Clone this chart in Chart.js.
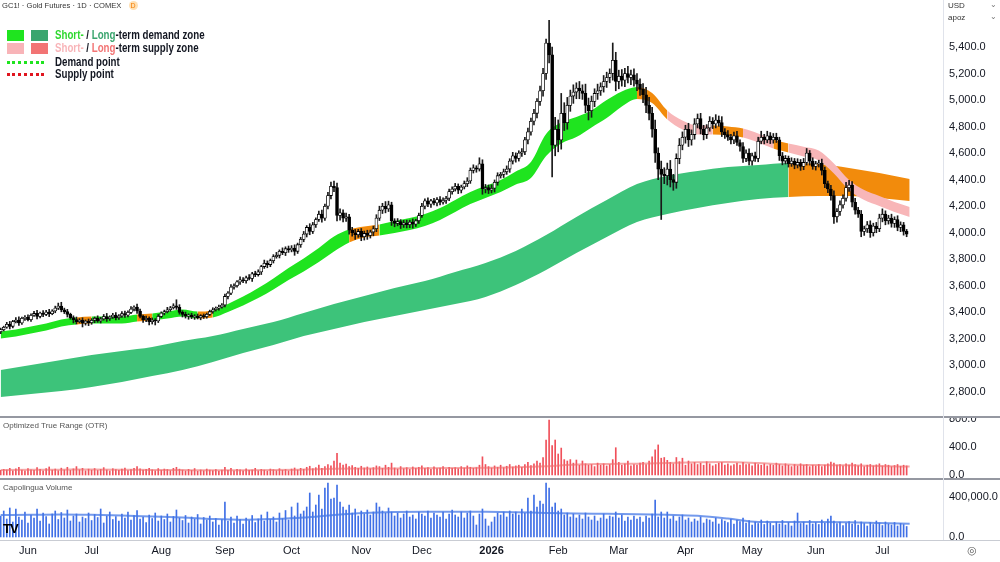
<!DOCTYPE html>
<html>
<head>
<meta charset="utf-8">
<script src="https://cdn.jsdelivr.net/npm/chart.js@4.4.1/dist/chart.umd.min.js"></script>
<style>
  body { margin: 0; width: 1000px; height: 562px; overflow: hidden; background: #fff; position: relative;
         font-family: "Liberation Sans", Arial, sans-serif; }
  canvas { position: absolute; left: 0; }
  .t { position: absolute; white-space: nowrap; color: #131722; }
  .sq { position: absolute; width: 17px; height: 11px; }
  .dot { position: absolute; width: 37px; height: 0; border-top: 3px dotted; }
  .line { position: absolute; background: #c9ccd3; }
  .leg { font-size: 12px; font-weight: bold; transform: scaleX(0.81); transform-origin: 0 0; }
</style>
</head>
<body>
<canvas id="price" width="1000" height="416" style="top:0"></canvas>
<canvas id="otr" width="1000" height="61" style="top:417px"></canvas>
<canvas id="vol" width="1000" height="83" style="top:479px"></canvas>

<div class="line" style="left:0;top:416px;width:1000px;height:2px;background:#9598a1"></div>
<div class="line" style="left:0;top:478px;width:1000px;height:2px;background:#9598a1"></div>
<div class="line" style="left:0;top:540px;width:1000px;height:1px"></div>
<div class="line" style="left:943px;top:0;width:1px;height:540px;background:#e0e3eb"></div>

<div class="t" style="left:2px;top:1px;font-size:7.6px;color:#333">GC1! · Gold Futures · 1D · COMEX
  <span style="display:inline-block;width:9px;height:9px;border-radius:50%;background:#ffe0b2;color:#f57c00;font-size:7px;text-align:center;line-height:9px;margin-left:5px">D</span></div>

<div class="sq" style="left:7px;top:30px;background:#1fe41f"></div>
<div class="sq" style="left:31px;top:30px;background:#3aa56e"></div>
<div class="t leg" style="left:55px;top:28px"><span style="color:#2ed82e">Short-</span> / <span style="color:#3aa56e">Long</span>-term demand zone</div>
<div class="sq" style="left:7px;top:43px;background:#f8b4b8"></div>
<div class="sq" style="left:31px;top:43px;background:#f27474"></div>
<div class="t leg" style="left:55px;top:41px"><span style="color:#f8b4b8">Short-</span> / <span style="color:#f27474">Long</span>-term supply zone</div>
<div class="dot" style="left:7px;top:61px;border-color:#1fe41f"></div>
<div class="t leg" style="left:55px;top:55px">Demand point</div>
<div class="dot" style="left:7px;top:73px;border-color:#e0151f"></div>
<div class="t leg" style="left:55px;top:67px">Supply point</div>

<div class="t" style="left:3px;top:421px;font-size:8px;color:#555">Optimized True Range (OTR)</div>
<div class="t" style="left:3px;top:483px;font-size:8px;color:#555">Capolingua Volume</div>
<div class="t" style="left:3px;top:521px;font-size:13px;font-weight:900;letter-spacing:-1px;color:#000">TV</div>

<div class="t" style="left:948px;top:1px;font-size:8px;color:#333">USD</div>
<div class="t" style="left:990px;top:0px;font-size:8px;color:#777">⌄</div>
<div class="t" style="left:948px;top:13px;font-size:8px;color:#333">apoz</div>
<div class="t" style="left:990px;top:12px;font-size:8px;color:#777">⌄</div>
<div class="t" style="left:967px;top:544px;font-size:11px;color:#555">◎</div>

<script>
// month ticks (trading-day index of first session of the month)
const monthIdx = [9, 30, 53, 74, 96, 119, 139, 162, 184, 204, 226, 248, 269, 291];
const monthLabels = ['Jun', 'Jul', 'Aug', 'Sep', 'Oct', 'Nov', 'Dec', '2026', 'Feb', 'Mar', 'Apr', 'May', 'Jun', 'Jul'];
const priceTicks = [2800, 3000, 3200, 3400, 3600, 3800, 4000, 4200, 4400, 4600, 4800, 5000, 5200, 5400];
const otrTicks = [0, 400, 800];
const volTicks = [0, 400000];

// daily candles, open = previous close
const firstOpen = 3255;
const closes = [
  3270,3288,3310,3295,3330,3342,3320,3355,3362,3345,
  3378,3392,3370,3395,3385,3402,3390,3410,3432,3448,
  3420,3405,3385,3360,3345,3330,3342,3318,3335,3322,
  3340,3355,3335,3350,3368,3352,3365,3380,3360,3372,
  3390,3378,3400,3425,3440,3410,3370,3345,3355,3330,
  3342,3335,3370,3395,3405,3420,3435,3450,3438,3400,
  3385,3372,3380,3365,3372,3360,3375,3368,3385,3405,
  3420,3432,3440,3455,3520,3545,3590,3600,3630,3645,
  3638,3660,3655,3690,3685,3705,3745,3770,3760,3790,
  3820,3830,3860,3850,3880,3870,3885,3860,3910,3950,
  3990,4040,4010,4060,4100,4140,4110,4200,4280,4350,
  4340,4130,4150,4110,4120,4020,4000,3985,4010,3970,
  3995,3980,4005,4030,4110,4170,4200,4180,4210,4090,
  4070,4085,4060,4075,4060,4080,4065,4090,4130,4200,
  4240,4215,4240,4225,4250,4230,4245,4260,4310,4330,
  4350,4320,4345,4370,4390,4470,4490,4480,4520,4330,
  4340,4320,4335,4380,4430,4440,4460,4480,4540,4580,
  4560,4600,4610,4700,4760,4840,4900,4990,5070,5200,
  5430,5340,4660,4780,4700,4900,4830,4960,5030,5060,
  5090,5070,5050,4960,4920,4990,5050,5070,5100,5140,
  5170,5200,5300,5140,5180,5150,5200,5170,5190,5150,
  5120,5080,5040,4960,4900,4780,4600,4480,4440,4430,
  4480,4400,4380,4560,4660,4720,4780,4700,4740,4820,
  4860,4780,4740,4790,4840,4820,4850,4830,4760,4740,
  4720,4700,4730,4680,4650,4560,4600,4540,4580,4560,
  4690,4720,4700,4730,4700,4720,4700,4580,4540,4560,
  4520,4540,4510,4530,4500,4530,4600,4540,4500,4520,
  4525,4470,4370,4330,4280,4120,4160,4210,4260,4340,
  4360,4230,4170,4140,4010,4030,4060,4000,4050,4030,
  4110,4140,4090,4110,4070,4100,4040,4060,4010,3990
];
// wick lengths above / below the body
const wickUp = [
  12,8,15,22,10,18,25,9,14,20, 11,16,24,8,19,13,21,10,15,22,
  28,12,18,9,14,20,11,17,8,15, 13,10,19,12,16,24,9,13,18,11,
  15,20,12,18,10,22,14,9,17,12, 16,11,14,9,12,18,10,15,45,20,
  12,17,9,14,11,16,8,13,10,12, 15,9,14,11,18,12,20,15,10,22,
  18,14,25,12,20,16,10,24,18,12, 15,22,11,26,14,20,18,24,12,16,
  20,14,28,18,12,24,30,16,25,32, 40,35,30,22,28,18,20,25,16,22,
  18,24,15,20,26,30,22,35,28,20, 16,22,14,18,20,15,24,12,18,22,
  16,24,12,20,15,22,18,14,20,16, 22,18,14,20,25,18,22,15,45,30,
  24,20,26,18,22,15,20,24,18,26, 22,18,25,20,28,24,30,22,35,40,
  30,170,60,90,70,150,80,60,45,55, 40,50,45,70,55,40,35,50,30,45,
  40,35,130,60,45,50,40,55,35,45, 50,40,45,55,60,45,70,40,60,50,
  45,65,40,35,50,40,30,45,35,40, 35,40,30,25,35,28,40,30,45,25,
  30,22,28,35,20,30,25,32,20,28, 30,45,22,35,25,28,30,20,25,22,
  18,25,20,28,22,30,35,20,25,18, 22,30,25,20,28,35,22,30,25,40,
  35,25,30,22,28,20,25,30,22,28, 30,40,25,22,30,20,28,22,18,15
];
const wickDn = [
  15,10,8,20,12,9,18,11,16,10, 14,9,20,12,17,10,22,8,13,11,
  16,14,20,12,25,18,10,28,14,22, 12,18,10,15,9,20,13,11,17,14,
  10,16,12,9,14,18,12,20,15,25, 18,30,12,10,14,9,12,10,16,14,
  20,15,24,12,18,10,16,14,12,9, 12,10,15,8,14,18,12,16,10,20,
  14,18,10,22,16,12,20,14,24,16, 18,12,20,15,22,18,14,30,16,20,
  18,22,25,16,20,15,30,18,20,25, 30,40,35,28,24,30,25,35,20,30,
  25,30,20,28,22,18,25,30,20,35, 25,18,28,20,24,22,30,18,20,15,
  20,18,24,16,22,20,15,24,18,20, 16,25,20,15,22,18,20,24,15,40,
  30,25,20,28,22,18,24,20,25,22, 28,20,25,22,30,25,28,35,30,40,
  45,60,240,80,90,70,60,50,45,55, 50,60,45,55,70,50,40,45,35,40,
  45,40,50,70,55,45,50,40,55,45, 50,45,60,55,50,60,70,80,340,60,
  70,55,60,45,40,35,45,50,40,35, 30,35,40,30,25,35,30,28,35,30,
  25,30,28,22,35,30,25,28,30,22, 25,20,30,22,28,25,20,35,28,22,
  25,20,28,22,30,25,20,30,22,28, 25,35,30,28,35,50,40,30,25,22,
  28,35,30,25,40,30,28,35,25,30, 22,28,30,25,28,30,25,32,28,20
];

// optimized true range per day
const otr = [
  65,80,72,95,60,88,110,70,58,92, 75,68,105,82,60,90,115,70,85,62,
  98,72,110,66,88,120,75,95,60,84, 70,92,65,80,105,72,58,90,76,68,
  85,100,62,78,95,120,88,70,82,96, 74,60,92,68,85,78,62,95,110,84,
  70,58,80,66,92,55,72,60,85,70, 62,78,55,70,110,68,95,60,82,74,
  58,88,66,72,95,60,80,70,56,85, 75,62,90,68,78,60,85,100,72,95,
  80,110,125,90,105,140,95,120,150,130, 200,310,170,140,155,120,135,110,95,125,
  100,115,90,105,130,120,95,140,110,170, 100,85,120,90,105,80,115,95,110,130,
  95,105,80,115,90,100,120,85,110,95, 105,90,120,100,130,110,95,105,140,260,
  150,120,100,130,110,140,105,125,150,115, 130,140,110,150,180,135,160,200,170,250,
  500,785,420,500,300,385,220,200,220,170, 214,140,200,160,143,150,120,170,140,160,
  130,150,220,390,180,140,160,200,130,150, 140,170,180,150,200,260,360,430,240,250,
  210,180,160,250,190,240,140,200,160,180, 150,170,140,190,160,130,150,170,180,140,
  160,130,150,170,140,180,150,160,130,170, 150,140,160,130,150,140,170,150,130,160,
  140,120,150,130,160,140,150,120,140,130, 150,120,140,160,185,170,140,150,130,160,
  140,170,150,130,160,120,140,150,130,145, 160,130,150,140,120,135,150,125,140,130
];
// volume in thousands of contracts
const volumeK = [
  210,260,180,290,150,280,200,170,250,140, 220,190,280,160,240,205,130,230,260,175,
  245,190,270,160,210,230,150,200,185,240, 165,225,195,280,140,210,250,175,205,160,
  230,190,250,170,215,265,180,200,145,220, 185,240,160,210,175,230,150,205,270,190,
  165,215,140,200,180,225,130,195,170,210, 150,185,120,175,350,160,200,140,210,175,
  130,190,165,215,145,180,220,160,250,175, 200,150,240,185,265,170,300,210,340,230,
  260,300,440,250,320,420,280,490,540,380, 390,520,350,300,270,320,240,280,210,260,
  230,270,220,250,340,300,260,240,290,250, 210,240,190,230,260,200,220,180,250,230,
  210,260,190,240,220,200,250,180,230,270, 220,200,250,190,240,260,210,120,230,280,
  180,110,150,200,240,220,250,200,260,230, 250,220,280,240,390,260,420,300,360,330,
  540,490,300,340,260,280,220,240,200,230, 190,220,180,240,200,170,210,160,190,230,
  180,210,200,250,190,220,160,200,170,210, 180,200,150,210,190,230,370,200,250,190,
  250,180,210,160,200,220,170,190,150,180, 160,200,140,180,170,150,190,130,175,160,
  145,180,130,170,155,190,140,165,120,150, 135,170,125,160,140,115,150,130,165,120,
  145,110,160,240,135,150,120,165,130,145, 125,170,140,180,210,160,135,150,115,140,
  155,130,165,120,150,135,110,145,125,160, 140,115,150,130,120,145,110,135,125,105
];

// moving-average lines, read every 10 sessions
const avgIdx = [0,10,20,30,40,50,60,70,80,90,100,110,120,130,140,150,160,170,180,190,200,210,220,230,240,250,260,270,280,290,300];
const otrAvg = [72,74,76,78,76,72,70,68,68,70,78,88,92,94,96,100,104,110,125,150,158,162,172,182,185,170,150,142,138,128,120];
const volAvgK = [220,222,225,222,215,205,195,180,172,180,195,220,240,250,253,253,252,248,240,235,232,228,222,212,185,150,150,150,148,140,132];

// short-term zone, every 5 sessions; letter = colour of the segment that starts there
const shortIdx = [0,5,10,15,20,25,30,35,40,45,50,55,60,65,70,75,80,85,90,95,100,105,110,115,120,125,130,135,140,145,150,155,160,165,170,175,180,185,190,195,200,205,210,215,220,225,230,235,240,245,250,255,260,265,270,275,280,285,290,295,300];
const shortTop = [3256,3271,3293,3316,3346,3361,3369,3369,3369,3384,3391,3406,3421,3406,3414,3463,3519,3583,3655,3734,3806,3885,3972,4024,4047,4062,4088,4111,4141,4186,4247,4307,4352,4397,4461,4533,4744,4831,4872,4921,5000,5065,5098,5053,4921,4846,4808,4808,4801,4785,4748,4703,4672,4649,4619,4521,4397,4322,4277,4232,4194];
const shortBot = [3203,3218,3241,3263,3293,3308,3316,3316,3316,3331,3339,3354,3369,3354,3361,3403,3452,3508,3572,3644,3708,3779,3858,3926,3964,3979,3998,4021,4051,4096,4156,4216,4262,4307,4363,4412,4578,4673,4721,4793,4864,4951,5008,4977,4853,4778,4740,4740,4733,4717,4680,4635,4605,4574,4544,4446,4322,4247,4202,4156,4119];
const shortZone = 'gggggogggogggoggggggggg' + 'ooggggggggggggggggg' + 'oopppoopp' + 'oppppppppp';

// long-term zone, every 10 sessions
const longIdx = avgIdx;
const longTop = [2966,3003,3041,3079,3109,3139,3184,3222,3275,3327,3395,3463,3523,3584,3636,3704,3772,3863,3983,4119,4247,4367,4428,4465,4495,4511,4526,4518,4488,4450,4405];
const longBot = [2762,2785,2807,2838,2875,2920,2966,3026,3094,3154,3222,3275,3327,3373,3418,3463,3516,3606,3719,3847,3968,4081,4141,4187,4224,4254,4269,4277,4277,4262,4239];
const longZone = 'GGGGGGGGGGGGGGGGGGGGGGGGGGoooo';

const zoneColor = { g: '#1fe41f', o: '#f28b0c', p: '#f8b6b8', G: '#3dc37a' };

Chart.defaults.font.family = '"Liberation Sans", Arial, sans-serif';
Chart.defaults.animation = false;

const opens = closes.map((c, i) => i === 0 ? firstOpen : closes[i - 1]);
const fmt = v => v.toLocaleString('en-US', { minimumFractionDigits: 1, maximumFractionDigits: 1 });

function xAxis(show) {
  return {
    type: 'linear', min: -0.23, max: 311, offset: false, display: show,
    grid: { display: false, drawTicks: false }, border: { display: false },
    afterBuildTicks: s => { s.ticks = monthIdx.map(v => ({ value: v })); },
    afterFit: s => { s.height = show ? 22 : 0; s.paddingLeft = 0; s.paddingRight = 0; },
    ticks: {
      display: show, autoSkip: false, maxRotation: 0, padding: 4, color: '#131722',
      font: ctx => ({ size: 11, weight: ctx.tick && ctx.tick.value === 162 ? 'bold' : 'normal' }),
      callback: v => monthLabels[monthIdx.indexOf(v)]
    }
  };
}
function yAxis(min, max, vals) {
  return {
    position: 'right', min: min, max: max,
    grid: { display: false, drawTicks: false }, border: { display: false },
    afterBuildTicks: s => { s.ticks = vals.map(v => ({ value: v })); },
    afterFit: s => { s.width = 57; s.paddingTop = 0; s.paddingBottom = 0; },
    ticks: { padding: 6, color: '#131722', font: { size: 11 }, callback: fmt }
  };
}
const base = { responsive: false, devicePixelRatio: 1, layout: { padding: 0 },
  plugins: { legend: { display: false }, tooltip: { enabled: false } }, events: [] };

function band(idx, vals, extra) {
  return Object.assign({
    type: 'line', data: idx.map((x, i) => ({ x: x, y: vals[i] })),
    borderWidth: 0, borderColor: 'transparent', pointRadius: 0,
    cubicInterpolationMode: 'monotone', fill: false
  }, extra);
}

new Chart(document.getElementById('price'), {
  type: 'bar',
  data: {
    datasets: [
      band(longIdx, longTop, { order: 10 }),
      band(longIdx, longBot, { order: 9, fill: '-1', backgroundColor: zoneColor.G,
        segment: { backgroundColor: ctx => zoneColor[longZone[ctx.p0DataIndex]] } }),
      band(shortIdx, shortTop, { order: 8 }),
      band(shortIdx, shortBot, { order: 7, fill: '-1', backgroundColor: zoneColor.g,
        segment: { backgroundColor: ctx => zoneColor[shortZone[ctx.p0DataIndex]] } }),
      {
        data: closes.map((c, i) => ({ x: i, y: [Math.min(opens[i], c) - wickDn[i], Math.max(opens[i], c) + wickUp[i]] })),
        backgroundColor: '#1a1a1a', barThickness: 1, grouped: false, order: 2
      },
      {
        data: closes.map((c, i) => ({ x: i, y: [opens[i], c] })),
        backgroundColor: closes.map((c, i) => c >= opens[i] ? '#ffffff' : '#000000'),
        borderColor: '#000', borderWidth: 0.8, borderSkipped: false,
        barThickness: 3, minBarLength: 1, grouped: false, order: 1
      }
    ]
  },
  options: Object.assign({}, base, {
    scales: { x: xAxis(false), y: yAxis(2619, 5754, priceTicks) }
  })
});

new Chart(document.getElementById('otr'), {
  type: 'bar',
  data: {
    datasets: [
      { type: 'line', data: avgIdx.map((x, i) => ({ x: x, y: otrAvg[i] })), borderColor: 'rgba(240,110,110,0.6)',
        borderWidth: 2, pointRadius: 0, cubicInterpolationMode: 'monotone', order: 1 },
      { data: otr.map((v, i) => ({ x: i, y: v })), backgroundColor: '#f0505a', barThickness: 1, grouped: false, order: 2 }
    ]
  },
  options: Object.assign({}, base, {
    scales: { x: xAxis(false), y: yAxis(-43, 829, otrTicks) }
  })
});

new Chart(document.getElementById('vol'), {
  type: 'bar',
  data: {
    datasets: [
      { type: 'line', data: avgIdx.map((x, i) => ({ x: x, y: volAvgK[i] * 1000 })), borderColor: 'rgba(70,120,230,0.75)',
        borderWidth: 2, pointRadius: 0, cubicInterpolationMode: 'monotone', order: 1 },
      { data: volumeK.map((v, i) => ({ x: i, y: v * 1000 })), backgroundColor: '#3f6fe6', barThickness: 1, grouped: false, order: 2 }
    ]
  },
  options: Object.assign({}, base, {
    scales: { x: xAxis(true), y: yAxis(-30000, 580000, volTicks) }
  })
});
</script>
</body>
</html>
